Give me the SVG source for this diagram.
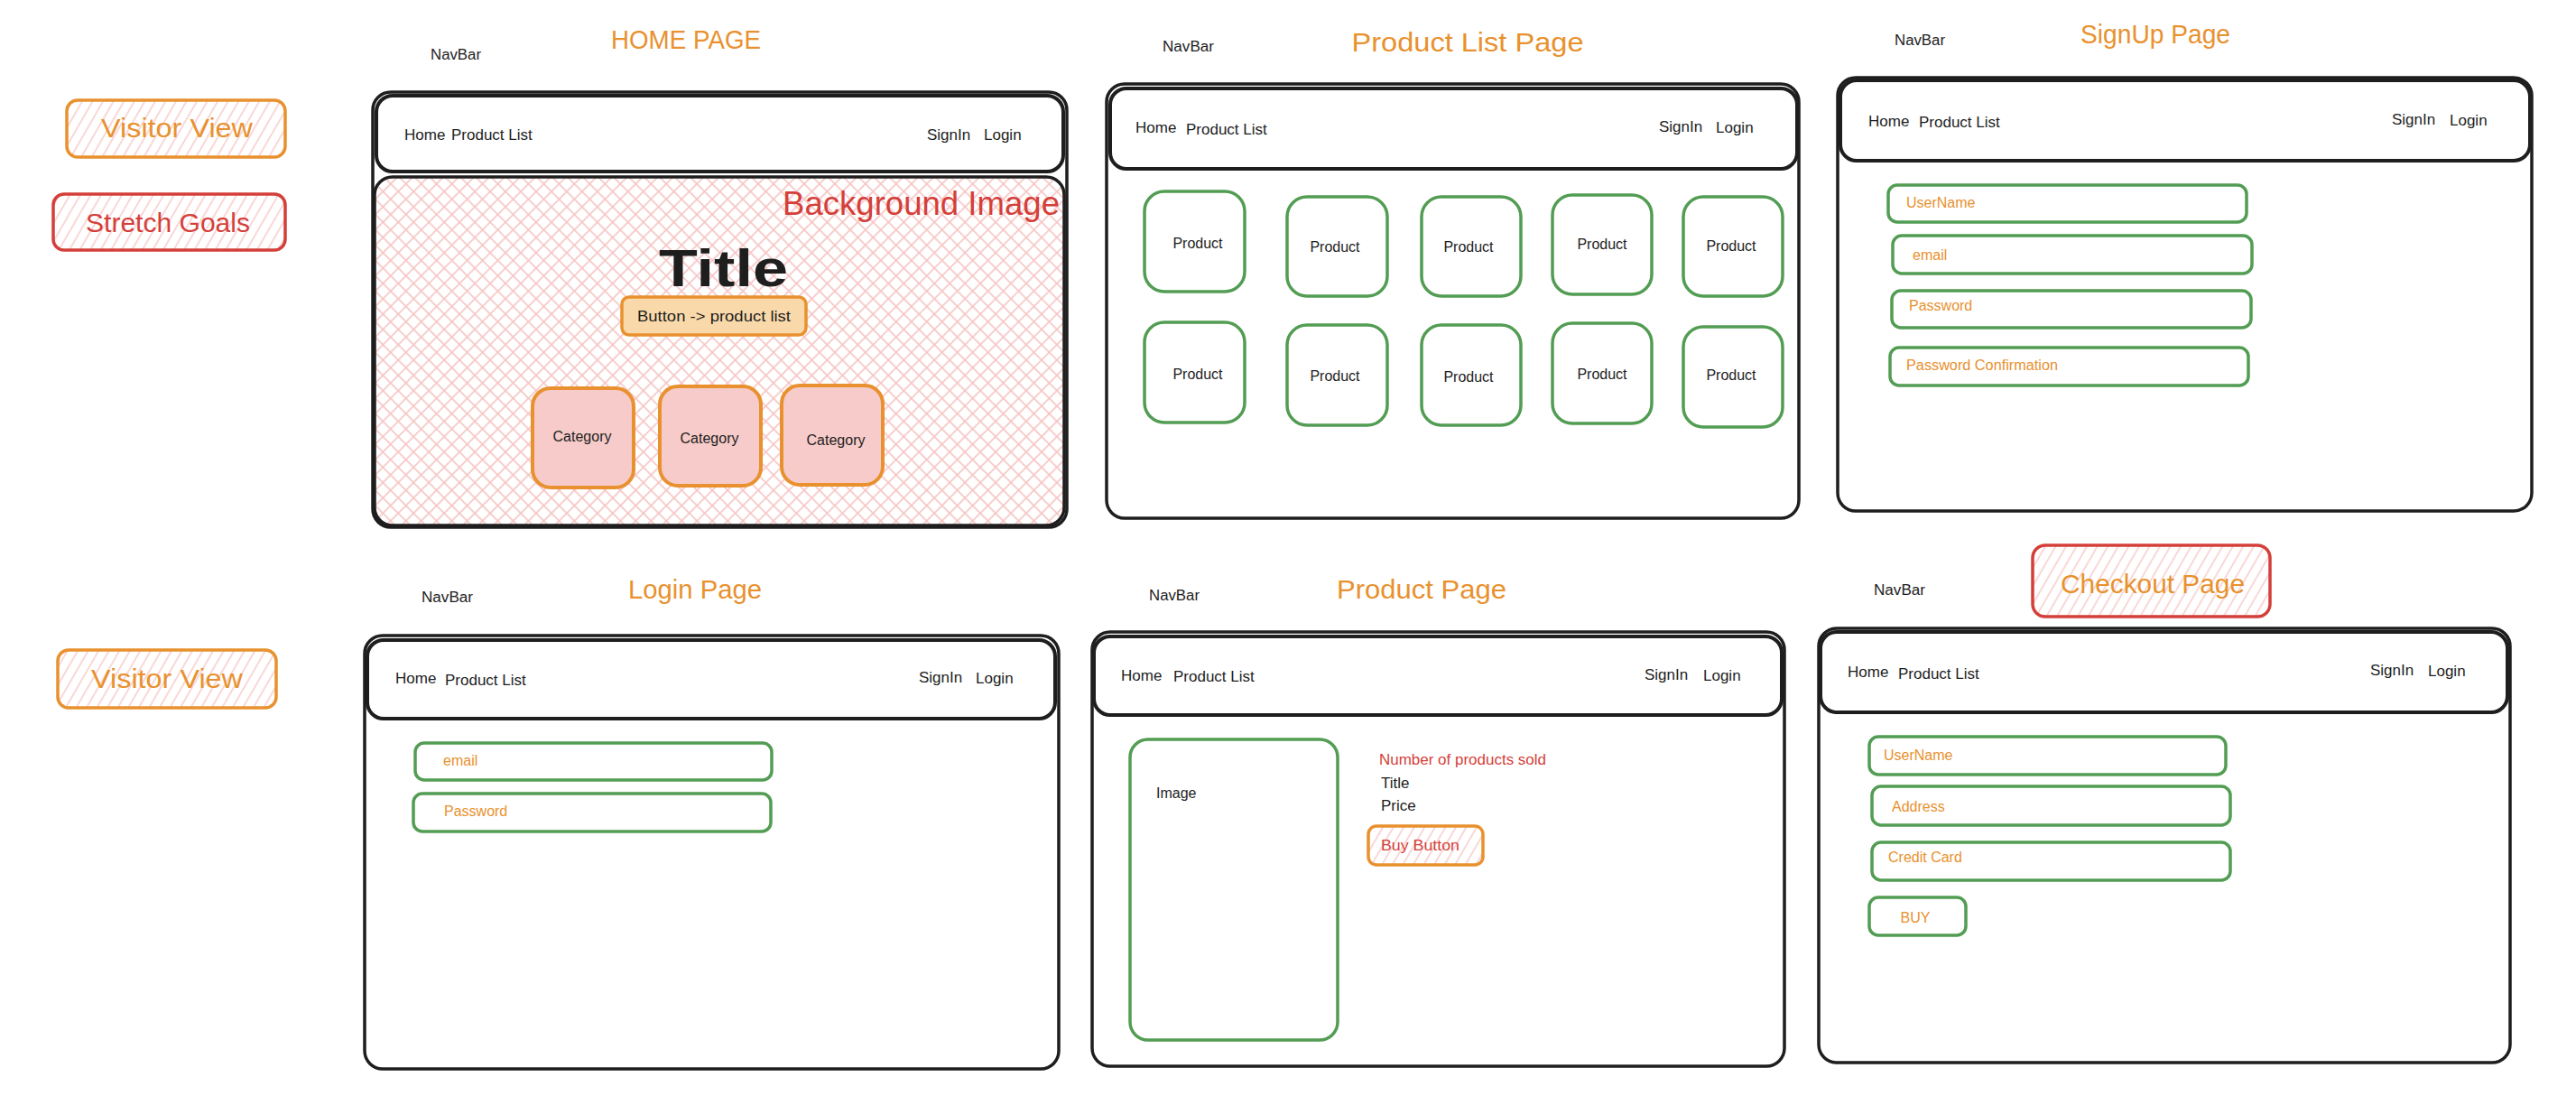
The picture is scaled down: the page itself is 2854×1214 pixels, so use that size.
<svg xmlns="http://www.w3.org/2000/svg" width="2854" height="1214" viewBox="0 0 2854 1214">
  <style>
    .t { font-family: "Liberation Sans", Arial, sans-serif; }
    .ink { fill: #1e1e1e; }
    .org { fill: #e8912e; }
    .red { fill: #d43f3a; }
    .frame { fill: #ffffff; stroke: #1e1e1e; stroke-width: 3.5; }
    .nav { fill: #ffffff; stroke: #1e1e1e; stroke-width: 4; }
    .field { fill: #ffffff; stroke: #529d53; stroke-width: 3.5; }
    .card { fill: #ffffff; stroke: #529d53; stroke-width: 3.5; }
    .tag { fill: url(#hatch); stroke-width: 3.5; }
    .navtxt { font-size: 17px; }
    .label { font-size: 16px; }
    .heading { font-size: 29px; }
  </style>
  <defs>
    <!-- single-direction hatch used on legend tags and buttons -->
    <pattern id="hatch" patternUnits="userSpaceOnUse" width="10" height="10" patternTransform="rotate(30)">
      <line x1="5" y1="0" x2="5" y2="10" stroke="#f5c3c2" stroke-width="1.3"/>
    </pattern>
    <!-- cross hatch used on the hero background -->
    <pattern id="cross" patternUnits="userSpaceOnUse" width="12" height="12" patternTransform="rotate(45)">
      <line x1="6" y1="0" x2="6" y2="12" stroke="#f5c3c2" stroke-width="1.6"/>
      <line x1="0" y1="6" x2="12" y2="6" stroke="#f5c3c2" stroke-width="1.6"/>
    </pattern>
  </defs>

  <rect width="2854" height="1214" fill="#ffffff"/>

  <!-- legend -->
  <g id="legend-visitor-top">
    <rect class="tag" x="74" y="111" width="242" height="63" rx="12" stroke="#e8912e"/>
    <text class="t org" x="196" y="152" font-size="30" text-anchor="middle" textLength="168" lengthAdjust="spacingAndGlyphs">Visitor View</text>
  </g>
  <g id="legend-stretch">
    <rect class="tag" x="59" y="215" width="257" height="62" rx="12" stroke="#d43f3a"/>
    <text class="t red" x="186" y="257" font-size="30" text-anchor="middle" textLength="182" lengthAdjust="spacingAndGlyphs">Stretch Goals</text>
  </g>
  <g id="legend-visitor-bottom">
    <rect class="tag" x="64" y="720" width="242" height="64" rx="12" stroke="#e8912e"/>
    <text class="t org" x="185" y="762" font-size="30" text-anchor="middle" textLength="168" lengthAdjust="spacingAndGlyphs">Visitor View</text>
  </g>

  <!-- HOME PAGE -->
  <g id="home-page">
    <text class="t org heading" x="760" y="54" text-anchor="middle" textLength="166" lengthAdjust="spacingAndGlyphs">HOME PAGE</text>
    <text class="t ink label" x="477" y="66" textLength="56" lengthAdjust="spacingAndGlyphs">NavBar</text>
    <rect class="frame" x="413" y="102" width="769" height="482" rx="20"/>
    <rect x="415" y="196" width="764" height="386" rx="20" fill="url(#cross)" stroke="#1e1e1e" stroke-width="3.5"/>
    <rect class="nav" x="417" y="106" width="761" height="84" rx="18"/>
    <g class="t ink navtxt">
      <text x="448" y="155">Home</text>
      <text x="500" y="155">Product List</text>
      <text x="1027" y="155">SignIn</text>
      <text x="1090" y="155">Login</text>
    </g>
    <text class="t red" x="867" y="238" font-size="37" textLength="307" lengthAdjust="spacingAndGlyphs">Background Image</text>
    <text class="t ink" x="730" y="317" font-size="58" font-weight="bold" textLength="143" lengthAdjust="spacingAndGlyphs">Title</text>
    <g id="home-cta">
      <rect x="689" y="329" width="204" height="42" rx="8" fill="#f9d9aa" stroke="#e8912e" stroke-width="3.5"/>
      <text class="t ink" x="791" y="356" font-size="17" text-anchor="middle" textLength="170" lengthAdjust="spacingAndGlyphs">Button -&gt; product list</text>
    </g>
    <g fill="#f6cbc9" stroke="#e8912e" stroke-width="4">
      <rect x="590" y="430" width="112" height="110" rx="20"/>
      <rect x="731" y="428" width="112" height="110" rx="20"/>
      <rect x="866" y="427" width="112" height="110" rx="20"/>
    </g>
    <g class="t ink label" text-anchor="middle">
      <text x="645" y="489">Category</text>
      <text x="786" y="491">Category</text>
      <text x="926" y="493">Category</text>
    </g>
  </g>

  <!-- PRODUCT LIST PAGE -->
  <g id="product-list-page">
    <text class="t org heading" x="1626" y="57" text-anchor="middle" textLength="257" lengthAdjust="spacingAndGlyphs">Product List Page</text>
    <text class="t ink label" x="1288" y="57" textLength="57" lengthAdjust="spacingAndGlyphs">NavBar</text>
    <rect class="frame" x="1226" y="93" width="767" height="481" rx="20"/>
    <rect class="nav" x="1230" y="98" width="761" height="89" rx="18"/>
    <g class="t ink navtxt">
      <text x="1258" y="147">Home</text>
      <text x="1314" y="149">Product List</text>
      <text x="1838" y="146">SignIn</text>
      <text x="1901" y="147">Login</text>
    </g>
    <g class="card-grid">
      <rect class="card" x="1268" y="212" width="111" height="111" rx="22"/>
      <rect class="card" x="1426" y="218" width="111" height="110" rx="22"/>
      <rect class="card" x="1575" y="218" width="110" height="110" rx="22"/>
      <rect class="card" x="1720" y="216" width="110" height="110" rx="22"/>
      <rect class="card" x="1865" y="218" width="110" height="110" rx="22"/>
      <rect class="card" x="1268" y="357" width="111" height="111" rx="22"/>
      <rect class="card" x="1426" y="360" width="111" height="111" rx="22"/>
      <rect class="card" x="1575" y="360" width="110" height="111" rx="22"/>
      <rect class="card" x="1720" y="358" width="110" height="111" rx="22"/>
      <rect class="card" x="1865" y="362" width="110" height="111" rx="22"/>
    </g>
    <g class="t ink label" text-anchor="middle">
      <text x="1327" y="275">Product</text>
      <text x="1479" y="279">Product</text>
      <text x="1627" y="279">Product</text>
      <text x="1775" y="276">Product</text>
      <text x="1918" y="278">Product</text>
      <text x="1327" y="420">Product</text>
      <text x="1479" y="422">Product</text>
      <text x="1627" y="423">Product</text>
      <text x="1775" y="420">Product</text>
      <text x="1918" y="421">Product</text>
    </g>
  </g>

  <!-- SIGNUP PAGE -->
  <g id="signup-page">
    <text class="t org heading" x="2388" y="48" text-anchor="middle" textLength="166" lengthAdjust="spacingAndGlyphs">SignUp Page</text>
    <text class="t ink label" x="2099" y="50" textLength="56" lengthAdjust="spacingAndGlyphs">NavBar</text>
    <rect class="frame" x="2036" y="86" width="769" height="480" rx="20"/>
    <rect class="nav" x="2039" y="89" width="764" height="89" rx="18"/>
    <g class="t ink navtxt">
      <text x="2070" y="140">Home</text>
      <text x="2126" y="141">Product List</text>
      <text x="2650" y="138">SignIn</text>
      <text x="2714" y="139">Login</text>
    </g>
    <rect class="field" x="2092" y="205" width="397" height="41" rx="10"/>
    <rect class="field" x="2097" y="261" width="398" height="42" rx="10"/>
    <rect class="field" x="2096" y="322" width="398" height="41" rx="10"/>
    <rect class="field" x="2094" y="385" width="397" height="42" rx="10"/>
    <g class="t org label">
      <text x="2112" y="230">UserName</text>
      <text x="2119" y="288">email</text>
      <text x="2115" y="344">Password</text>
      <text x="2112" y="410" textLength="168" lengthAdjust="spacingAndGlyphs">Password Confirmation</text>
    </g>
  </g>

  <!-- LOGIN PAGE -->
  <g id="login-page">
    <text class="t org heading" x="770" y="663" text-anchor="middle" textLength="148" lengthAdjust="spacingAndGlyphs">Login Page</text>
    <text class="t ink label" x="467" y="667" textLength="57" lengthAdjust="spacingAndGlyphs">NavBar</text>
    <rect class="frame" x="404" y="704" width="769" height="480" rx="20"/>
    <rect class="nav" x="407" y="709" width="762" height="87" rx="18"/>
    <g class="t ink navtxt">
      <text x="438" y="757">Home</text>
      <text x="493" y="759">Product List</text>
      <text x="1018" y="756">SignIn</text>
      <text x="1081" y="757">Login</text>
    </g>
    <rect class="field" x="460" y="823" width="395" height="41" rx="10"/>
    <rect class="field" x="458" y="879" width="396" height="42" rx="10"/>
    <g class="t org label">
      <text x="491" y="848">email</text>
      <text x="492" y="904">Password</text>
    </g>
  </g>

  <!-- PRODUCT PAGE -->
  <g id="product-page">
    <text class="t org heading" x="1575" y="663" text-anchor="middle" textLength="188" lengthAdjust="spacingAndGlyphs">Product Page</text>
    <text class="t ink label" x="1273" y="665" textLength="56" lengthAdjust="spacingAndGlyphs">NavBar</text>
    <rect class="frame" x="1210" y="700" width="767" height="481" rx="20"/>
    <rect class="nav" x="1212" y="705" width="762" height="87" rx="18"/>
    <g class="t ink navtxt">
      <text x="1242" y="754">Home</text>
      <text x="1300" y="755">Product List</text>
      <text x="1822" y="753">SignIn</text>
      <text x="1887" y="754">Login</text>
    </g>
    <rect class="card" x="1252" y="819" width="230" height="333" rx="20"/>
    <text class="t ink label" x="1281" y="884">Image</text>
    <text class="t red label" x="1528" y="847" textLength="185" lengthAdjust="spacingAndGlyphs">Number of products sold</text>
    <text class="t ink" x="1530" y="873" font-size="17">Title</text>
    <text class="t ink" x="1530" y="898" font-size="17">Price</text>
    <g id="buy-button">
      <rect class="tag" x="1516" y="915" width="127" height="43" rx="9" stroke="#e8912e"/>
      <text class="t red label" x="1530" y="942" textLength="87" lengthAdjust="spacingAndGlyphs">Buy Button</text>
    </g>
  </g>

  <!-- CHECKOUT PAGE -->
  <g id="checkout-page">
    <rect class="tag" x="2252" y="604" width="263" height="79" rx="14" stroke="#d43f3a"/>
    <text class="t org heading" x="2385" y="657" text-anchor="middle" textLength="204" lengthAdjust="spacingAndGlyphs">Checkout Page</text>
    <text class="t ink label" x="2076" y="659" textLength="57" lengthAdjust="spacingAndGlyphs">NavBar</text>
    <rect class="frame" x="2015" y="696" width="766" height="481" rx="20"/>
    <rect class="nav" x="2017" y="700" width="761" height="89" rx="18"/>
    <g class="t ink navtxt">
      <text x="2047" y="750">Home</text>
      <text x="2103" y="752">Product List</text>
      <text x="2626" y="748">SignIn</text>
      <text x="2690" y="749">Login</text>
    </g>
    <rect class="field" x="2071" y="816" width="395" height="42" rx="10"/>
    <rect class="field" x="2074" y="871" width="397" height="43" rx="10"/>
    <rect class="field" x="2074" y="933" width="397" height="42" rx="10"/>
    <rect class="field" x="2071" y="994" width="107" height="42" rx="10"/>
    <g class="t org label">
      <text x="2087" y="842">UserName</text>
      <text x="2096" y="899">Address</text>
      <text x="2092" y="955">Credit Card</text>
      <text x="2122" y="1022" text-anchor="middle">BUY</text>
    </g>
  </g>
</svg>
